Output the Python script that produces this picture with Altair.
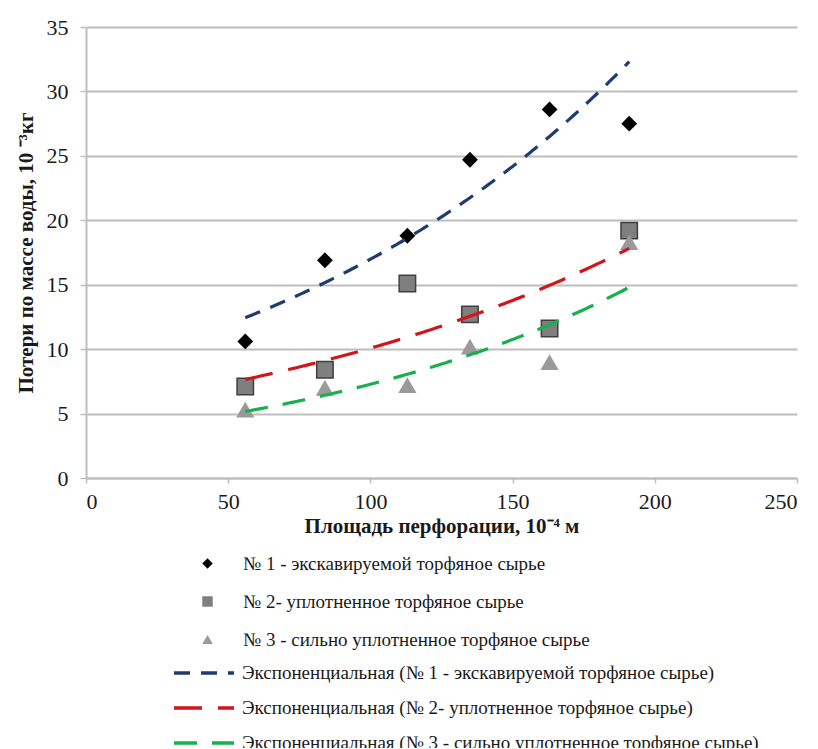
import altair as alt
import pandas as pd

# ---- data ----
area = [56, 84, 113, 135, 163, 191]
loss_1 = [10.6, 16.9, 18.8, 24.7, 28.6, 27.5]
loss_2 = [7.1, 8.4, 15.1, 12.7, 11.6, 19.2]
loss_3 = [5.3, 7.0, 7.2, 10.2, 9.0, 18.3]

series_names = [
    "№ 1 - экскавируемой торфяное сырье",
    "№ 2- уплотненное торфяное сырье",
    "№ 3 - сильно уплотненное торфяное сырье",
]
trend_names = ["Экспоненциальная (" + s + ")" for s in series_names]

point_fill = ["#000000", "#7f7f7f", "#9a9a9a"]
point_shape = ["diamond", "square", "triangle-up"]
point_size = [250, 270, 330]
point_stroke = ["transparent", "#3f3f3f", "transparent"]
trend_colors = ["#1F3B70", "#D0161A", "#17B04F"]
trend_dash = [[16, 11], [28, 16], [23, 15]]

rows = []
for name, vals in zip(series_names, [loss_1, loss_2, loss_3]):
    for xv, yv in zip(area, vals):
        rows.append({"x": xv, "y": yv, "series": name})
df = pd.DataFrame(rows)

FONT = "Liberation Serif"
TXT = "#1a1a1a"
GRID = "#bdbdbd"

x_enc = alt.X("x:Q", scale=alt.Scale(domain=[0, 250], nice=False),
              axis=alt.Axis(values=[0, 50, 100, 150, 200, 250],
                            title="Площадь перфорации, 10⁻⁴ м"))
y_enc = alt.Y("y:Q", scale=alt.Scale(domain=[0, 35], nice=False),
              axis=alt.Axis(values=[0, 5, 10, 15, 20, 25, 30, 35],
                            title="Потери по массе воды, 10 ⁻³кг"))

pt_legend = alt.Legend(title=None, orient="none", legendX=112, legendY=527,
                       symbolSize=110, labelOffset=26, rowPadding=18)

point_layers = []
for name, sz, st in zip(series_names, point_size, point_stroke):
    point_layers.append(
        alt.Chart(df)
        .transform_filter(alt.datum.series == name)
        .mark_point(filled=True, opacity=1, size=sz, stroke=st, strokeWidth=1.5)
        .encode(
            x=x_enc,
            y=y_enc,
            shape=alt.Shape("series:N",
                            scale=alt.Scale(domain=series_names, range=point_shape),
                            legend=pt_legend),
            fill=alt.Fill("series:N",
                          scale=alt.Scale(domain=series_names, range=point_fill),
                          legend=pt_legend),
        )
    )

ln_legend = alt.Legend(title=None, orient="none", legendX=86, legendY=637,
                       symbolType="stroke", symbolSize=3600, symbolStrokeWidth=3.5,
                       labelOffset=6, rowPadding=16, clipHeight=18)

trend = (
    alt.Chart(df)
    .transform_calculate(lny="log(datum.y)")
    .transform_joinaggregate(xmin="min(x)", xmax="max(x)", groupby=["series"])
    .transform_regression("x", "lny", groupby=["series", "xmin", "xmax"],
                          method="linear", params=True)
    .transform_calculate(
        xs="sequence(datum.keys[1], datum.keys[2] + 0.5, 1)",
        trend="'Экспоненциальная (' + datum.keys[0] + ')'",
    )
    .transform_flatten(["xs"])
    .transform_calculate(yfit="exp(datum.coef[0] + datum.coef[1] * datum.xs)")
    .mark_line(strokeWidth=3.2)
    .encode(
        x=alt.X("xs:Q"),
        y=alt.Y("yfit:Q"),
        stroke=alt.Stroke("trend:N", scale=alt.Scale(domain=trend_names, range=trend_colors),
                          legend=ln_legend),
        strokeDash=alt.StrokeDash("trend:N", scale=alt.Scale(domain=trend_names, range=trend_dash),
                                  legend=ln_legend),
    )
)

chart = (
    alt.layer(*point_layers, trend)
    .properties(
        width=711,
        height=451,
        autosize=alt.AutoSizeParams(type="none"),
        padding={"left": 78, "top": 19, "right": 13, "bottom": 270},
    )
    .configure_view(stroke=None)
    .configure_axis(
        labelFont=FONT, labelFontSize=22, labelColor=TXT,
        titleFont=FONT, titleFontSize=21, titleFontWeight="bold", titleColor=TXT,
        domainColor=GRID, domainWidth=2, tickColor=GRID, tickWidth=1.5,
        gridColor=GRID, gridWidth=2,
    )
    .configure_axisX(grid=False, tickSize=5, labelPadding=8, titlePadding=3)
    .configure_axisY(grid=True, tickSize=6, labelPadding=12, titlePadding=10)
    .configure_legend(labelFont=FONT, labelFontSize=19, labelColor=TXT, padding=0,
                      labelLimit=700)
)

chart.save("out.html", embed_options={"renderer": "svg", "actions": False})
